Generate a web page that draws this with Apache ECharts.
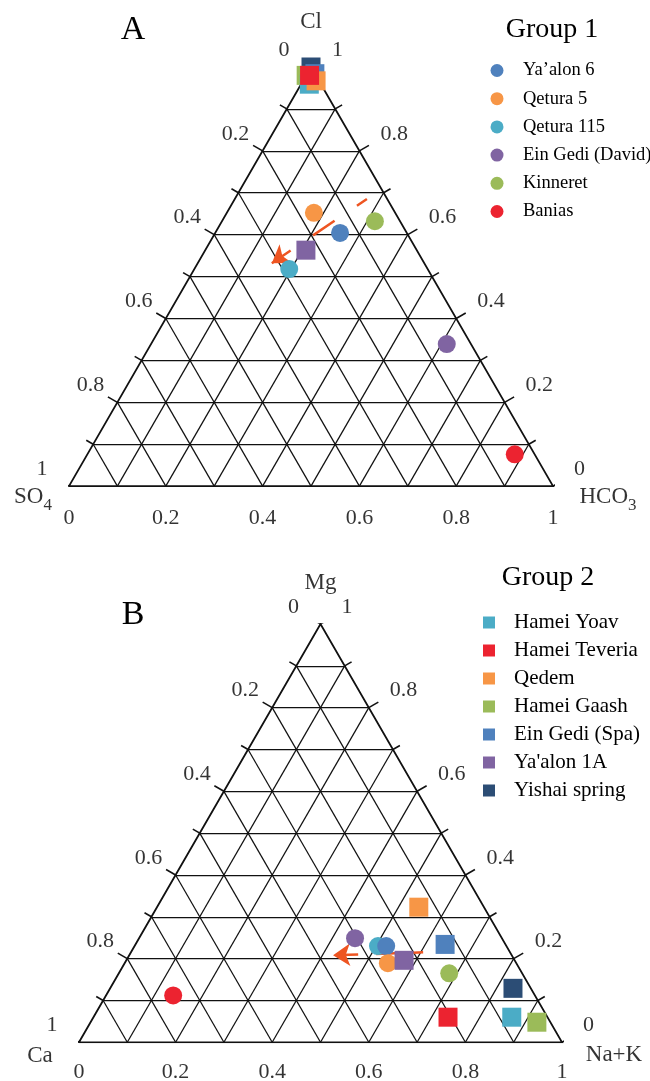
<!DOCTYPE html>
<html><head><meta charset="utf-8">
<script src="https://cdn.jsdelivr.net/npm/echarts@6/dist/echarts.min.js"></script>
<style>html,body{margin:0;padding:0;background:#fff}#c{width:650px;height:1081px}</style>
</head><body><div id="c"></div>
<script>
// ---------------- DATA ----------------
// Ternary compositions are [left vertex, top vertex, right vertex] fractions.
// Panel A (anions): [SO4, Cl, HCO3]; Panel B (cations): [Ca, Mg, Na+K]
const anionAxisNames = [{base:'SO', sub:'4'}, {base:'Cl', sub:''}, {base:'HCO', sub:'3'}];
const cationAxisNames = [{base:'Ca', sub:''}, {base:'Mg', sub:''}, {base:'Na+K', sub:''}];
const tickValues = [0, 0.2, 0.4, 0.6, 0.8, 1];
const tickLabels = ['0', '0.2', '0.4', '0.6', '0.8', '1'];
const panelLetters = ['A', 'B'];
const legendTitles = ['Group 1', 'Group 2'];

const group1Names  = ['Ya\u2019alon 6', 'Qetura 5', 'Qetura 115', 'Ein Gedi (David)', 'Kinneret', 'Banias'];
const group1Colors = ['#4F81BD', '#F79646', '#4BACC6', '#8064A2', '#9BBB59', '#EC2330'];
const group1Anions = [
  [0.138, 0.604, 0.258],
  [0.168, 0.652, 0.180],
  [0.286, 0.518, 0.196],
  [0.050, 0.339, 0.611],
  [0.052, 0.632, 0.316],
  [0.041, 0.076, 0.883]
];
const group1Cations = [
  [0.249, 0.230, 0.521],
  [0.266, 0.189, 0.545],
  [0.266, 0.230, 0.504],
  [0.304, 0.249, 0.447],
  [0.151, 0.165, 0.684],
  [0.749, 0.112, 0.139]
];
const group1DrawOrder = [2, 0, 1, 3, 4, 5];

const group2Names  = ['Hamei Yoav', 'Hamei Teveria', 'Qedem', 'Hamei Gaash', 'Ein Gedi (Spa)', "Ya'alon 1A", 'Yishai spring'];
const group2Colors = ['#4BACC6', '#EC2330', '#F79646', '#9BBB59', '#4F81BD', '#8064A2', '#2C4D75'];
const group2Anions = [
  [0.024, 0.959, 0.017],
  [0.013, 0.980, 0.007],
  [0.006, 0.967, 0.027],
  [0.020, 0.980, 0.000],
  [0.000, 0.984, 0.016],
  [0.229, 0.563, 0.208],
  [0.000, 1.000, 0.000]
];
const group2Cations = [
  [0.074, 0.060, 0.866],
  [0.206, 0.060, 0.734],
  [0.135, 0.323, 0.542],
  [0.028, 0.048, 0.924],
  [0.125, 0.234, 0.641],
  [0.229, 0.196, 0.575],
  [0.037, 0.129, 0.834]
];
const group2DrawOrder = [6, 3, 4, 0, 2, 5, 1];

// trend arrows (start -> end compositions)
const arrowAnions  = [[0.042, 0.685, 0.273], [0.315, 0.532, 0.153]];
const arrowCations = [[0.180, 0.215, 0.605], [0.370, 0.208, 0.422]];

// ---------------- HELPERS ----------------
const H = Math.sqrt(3) / 2;
const FONT = '"Liberation Serif","Times New Roman",serif';
const INK = '#111';
function toXY(p) { const s = p[0] + p[1] + p[2]; return [(p[2] + p[1] / 2) / s, (p[1] / s) * H]; }

const panels = [
  { grid: {left: 69, top: 67, width: 484, height: 484 * H}, px: 484, names: anionAxisNames,
    g1: group1Anions, g2: group2Anions, arrow: arrowAnions, dash: [26, 27], dashOffset: 14,
    bottomOff: 32, nameOff: [[-36, 11], [0, -45], [55, 11]] },
  { grid: {left: 79, top: 624, width: 483, height: 483 * H}, px: 483, names: cationAxisNames,
    g1: group1Cations, g2: group2Cations, arrow: arrowCations, dash: [19, 18], dashOffset: 9,
    bottomOff: 30, nameOff: [[-39, 14], [0, -41], [52, 13]] }
];

const grids = [], xAxes = [], yAxes = [], series = [];
panels.forEach((P, pi) => {
  grids.push(Object.assign({containLabel: false, show: false}, P.grid));
  xAxes.push({type: 'value', gridIndex: pi, min: 0, max: 1, show: false});
  yAxes.push({type: 'value', gridIndex: pi, min: 0, max: H, show: false});
  const ax = {xAxisIndex: pi, yAxisIndex: pi};

  // internal grid lines
  const segs = [];
  for (let k = 1; k < 10; k++) {
    const t = k / 10;
    segs.push([[1 - t, t, 0], [0, t, 1 - t]]);
    segs.push([[1 - t, 0, t], [0, 1 - t, t]]);
    segs.push([[t, 0, 1 - t], [t, 1 - t, 0]]);
  }
  series.push(Object.assign({type: 'lines', coordinateSystem: 'cartesian2d', silent: true, animation: false,
    data: segs.map(s => ({coords: s.map(toXY)})),
    lineStyle: {color: INK, width: 1.25, opacity: 1}}, ax));

  // ticks
  const u = 1 / P.px;
  const ticks = [];
  for (let k = 0; k <= 10; k++) {
    const t = k / 10;
    const major = k % 2 === 0;
    const len = (major ? 11 : 8) * u;
    const sideLen = (k === 0 || k === 10) ? 15 * u : len;
    let b = toXY([1 - t, 0, t]);
    ticks.push([b, [b[0], b[1] - len]]);
    let r = toXY([0, t, 1 - t]);
    ticks.push([r, [r[0] + H * sideLen, r[1] + 0.5 * sideLen]]);
    let l = toXY([t, 1 - t, 0]);
    ticks.push([l, [l[0] - H * sideLen, l[1] + 0.5 * sideLen]]);
  }
  series.push(Object.assign({type: 'lines', coordinateSystem: 'cartesian2d', silent: true, animation: false,
    data: ticks.map(c => ({coords: c})), lineStyle: {color: INK, width: 1.6, opacity: 1}}, ax));

  // border
  series.push(Object.assign({type: 'lines', coordinateSystem: 'cartesian2d', polyline: true, silent: true, animation: false,
    data: [{coords: [[1, 0, 0], [0, 1, 0], [0, 0, 1], [1, 0, 0]].map(toXY)}],
    lineStyle: {color: INK, width: 1.8, opacity: 1}}, ax));

  // group 1 circles
  group1DrawOrder.forEach(i => {
    series.push(Object.assign({type: 'scatter', name: group1Names[i], symbol: 'circle', symbolSize: 18,
      silent: true, animation: false, itemStyle: {color: group1Colors[i], opacity: 1},
      data: [toXY(P.g1[i])]}, ax));
  });

  // trend arrow
  series.push(Object.assign({type: 'lines', coordinateSystem: 'cartesian2d', silent: true, animation: false,
    symbol: ['none', 'arrow'], symbolSize: 17,
    data: [{coords: P.arrow.map(toXY)}],
    lineStyle: {color: '#EE5522', width: 2.5, opacity: 1, type: P.dash, dashOffset: P.dashOffset}}, ax));

  // group 2 squares
  group2DrawOrder.forEach(i => {
    series.push(Object.assign({type: 'scatter', name: group2Names[i], symbol: 'rect', symbolSize: 19,
      silent: true, animation: false, itemStyle: {color: group2Colors[i], opacity: 1},
      data: [toXY(P.g2[i])]}, ax));
  });

  // tick labels
  const lab = [];
  tickValues.forEach((t, j) => {
    lab.push({value: toXY([1 - t, 0, t]), label: {formatter: tickLabels[j], offset: [0, P.bottomOff]}});
    lab.push({value: toXY([0, t, 1 - t]), label: {formatter: tickLabels[j], offset: [21, -17], align: 'left'}});
    lab.push({value: toXY([t, 1 - t, 0]), label: {formatter: tickLabels[j], offset: [-27, -17]}});
  });
  // axis names
  const verts = [[1, 0, 0], [0, 1, 0], [0, 0, 1]];
  P.names.forEach((n, j) => {
    const txt = n.sub ? '{m|' + n.base + '}{s|' + n.sub + '}' : '{m|' + n.base + '}';
    lab.push({value: toXY(verts[j]), label: {formatter: txt, offset: P.nameOff[j]}});
  });
  series.push(Object.assign({type: 'scatter', silent: true, animation: false, symbolSize: 1,
    itemStyle: {color: 'rgba(0,0,0,0)'}, data: lab,
    label: {show: true, position: 'inside', color: '#000', fontFamily: FONT, fontSize: 22,
      rich: {m: {fontFamily: FONT, fontSize: 23, color: '#000'},
             s: {fontFamily: FONT, fontSize: 17, color: '#000', padding: [16, 0, 0, 0]}}}}, ax));
});

const option = {
  backgroundColor: '#fff',
  animation: false,
  grid: grids, xAxis: xAxes, yAxis: yAxes, series: series,
  legend: [
    {data: group1Names.map(n => ({name: n, icon: 'circle'})), orient: 'vertical', left: 490.5, top: 61,
     padding: 0, itemWidth: 42, itemHeight: 13, itemGap: 9.2, selectedMode: false,
     textStyle: {fontFamily: FONT, fontSize: 18.5, lineHeight: 18, color: '#000'}},
    {data: group2Names.map(n => ({name: n, icon: 'path://M0,0L10,0L10,10L0,10Z'})), orient: 'vertical', left: 483, top: 612,
     padding: 0, itemWidth: 40, itemHeight: 12, itemGap: 7, selectedMode: false,
     textStyle: {fontFamily: FONT, fontSize: 21, lineHeight: 20, color: '#000'}}
  ],
  graphic: [
    {type: 'text', x: 133, y: 30, style: {text: panelLetters[0], fontFamily: FONT, fontSize: 34, fill: '#000', align: 'center', verticalAlign: 'middle'}},
    {type: 'text', x: 133, y: 615, style: {text: panelLetters[1], fontFamily: FONT, fontSize: 34, fill: '#000', align: 'center', verticalAlign: 'middle'}},
    {type: 'text', x: 552, y: 30, style: {text: legendTitles[0], fontFamily: FONT, fontSize: 28, fill: '#000', align: 'center', verticalAlign: 'middle'}},
    {type: 'text', x: 548, y: 578, style: {text: legendTitles[1], fontFamily: FONT, fontSize: 28, fill: '#000', align: 'center', verticalAlign: 'middle'}}
  ]
};
const chart = echarts.init(document.getElementById('c'));
chart.setOption(option);
</script></body></html>
